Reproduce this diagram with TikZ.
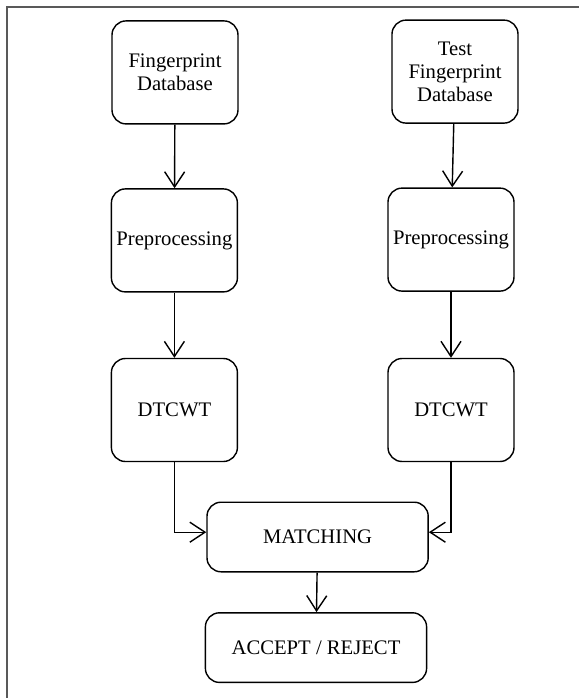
\documentclass[tikz,border=0pt]{standalone}
\usepackage{fontspec}
\setmainfont{Liberation Serif}
\usepackage{tikz}
\usetikzlibrary{arrows.meta,positioning,calc}

\begin{document}
\begin{tikzpicture}[
    box/.style={rectangle, draw=black, line width=1pt, rounded corners=10pt,
                minimum width=3.15cm, minimum height=2.575cm, align=center,
                font=\fontsize{14.7}{16.5}\selectfont},
    wide/.style={box, minimum width=5.53cm, minimum height=1.74cm},
    arr/.style={-{Straight Barb[length=3.8mm, width=5mm, line width=1pt]}, line width=1pt}
]
    \useasboundingbox (0,0) rectangle (14.475,-17.45);
    % page frame (top and left only)
    \draw[black!65, line width=1.5pt] (0.175,-17.45) -- (0.175,-0.175) -- (14.475,-0.175);

    \node[box] (fdb) at (4.375,-1.81) {Fingerprint\\Database};
    \node[box] (tdb) at (11.375,-1.79) {Test\\Fingerprint\\Database};
    \node[box] (pre1) at (4.36,-6.01) {Preprocessing};
    \node[box] (pre2) at (11.275,-5.99) {Preprocessing};
    \node[box] (dt1) at (4.36,-10.25) {DTCWT};
    \node[box] (dt2) at (11.275,-10.25) {DTCWT};
    \node[wide] (match) at (7.94,-13.425) {MATCHING};
    \node[wide] (acc) at (7.9,-16.19) {ACCEPT / REJECT};

    \draw[arr] (fdb) -- (pre1);
    \draw[arr] (tdb) -- (pre2);
    \draw[arr] (pre1) -- (dt1);
    \draw[arr] (pre2) -- (dt2);
    \draw[arr] (dt1.south) |- ([yshift=1.2mm]match.west);
    \draw[arr] (dt2.south) |- ([yshift=1.2mm]match.east);
    \draw[arr] (match) -- (acc);
\end{tikzpicture}
\end{document}
